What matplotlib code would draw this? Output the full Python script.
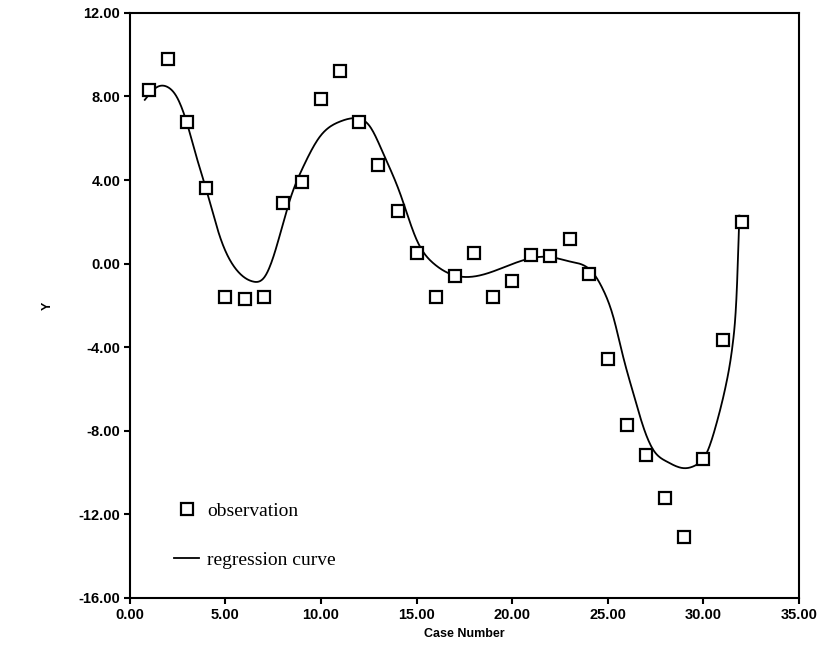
import numpy as np
import matplotlib
matplotlib.use("Agg")
import matplotlib.pyplot as plt

case_number = np.arange(1, 33)
y_obs = [8.3, 9.8, 6.8, 3.6, -1.6, -1.7, -1.6, 2.9, 3.9, 7.9, 9.2, 6.8,
         4.7, 2.5, 0.5, -1.6, -0.6, 0.5, -1.6, -0.85, 0.4, 0.35, 1.2, -0.5,
         -4.55, -7.75, -9.15, -11.2, -13.1, -9.35, -3.65, 2.0]

# regression curve, read at points along it
curve_x = [0.78, 1.4, 2.0, 2.44, 2.96, 3.48, 4.0, 4.71, 5.58, 6.45, 7.06, 7.67,
           8.37, 9.07, 9.94, 10.99, 11.86, 12.56, 13.25, 14.13, 15.0, 15.87,
           16.9, 17.97, 19.5, 21.1, 22.1, 23.02, 24.24, 24.76, 25.28, 25.8,
           26.33, 26.85, 27.38, 28.07, 28.94, 29.64, 30.17, 30.69, 31.2,
           31.56, 31.75, 31.88]
curve_y = [7.84, 8.44, 8.44, 8.0, 6.8, 5.12, 3.53, 1.29, -0.3, -0.86, -0.62, 0.81,
           3.05, 4.64, 6.08, 6.8, 6.96, 6.56, 5.28, 3.37, 1.14, 0.02,
           -0.54, -0.62, -0.2, 0.28, 0.3, 0.1, -0.46, -1.26, -2.53, -4.45,
           -6.2, -7.8, -8.92, -9.47, -9.79, -9.63, -9.07, -7.64, -5.72,
           -3.65, -1.2, 2.3]


def natural_spline(x, y, xs):
    x = np.asarray(x, float)
    y = np.asarray(y, float)
    n = len(x)
    h = np.diff(x)
    A = np.zeros((n, n))
    b = np.zeros(n)
    A[0, 0] = A[-1, -1] = 1
    for i in range(1, n - 1):
        A[i, i - 1] = h[i - 1]
        A[i, i] = 2 * (h[i - 1] + h[i])
        A[i, i + 1] = h[i]
        b[i] = 6 * ((y[i + 1] - y[i]) / h[i] - (y[i] - y[i - 1]) / h[i - 1])
    m = np.linalg.solve(A, b)
    idx = np.clip(np.searchsorted(x, xs) - 1, 0, n - 2)
    x0, x1 = x[idx], x[idx + 1]
    hh = x1 - x0
    t0, t1 = x1 - xs, xs - x0
    return (m[idx] * t0**3 / (6 * hh) + m[idx + 1] * t1**3 / (6 * hh)
            + (y[idx] / hh - m[idx] * hh / 6) * t0
            + (y[idx + 1] / hh - m[idx + 1] * hh / 6) * t1)


xs = np.linspace(curve_x[0], curve_x[-1], 800)
ys = natural_spline(curve_x, curve_y, xs)

fig = plt.figure(figsize=(8.22, 6.47), dpi=100)
ax = fig.add_axes([0.158, 0.076, 0.814, 0.904])

ax.plot(case_number, y_obs, "s", markersize=8.5, markerfacecolor="white",
        markeredgecolor="black", markeredgewidth=1.6, label="observation", zorder=3)
ax.plot(xs, ys, "-", color="black", linewidth=1.3, label="regression curve")

ax.set_xlim(0, 35)
ax.set_ylim(-16, 12)
ax.set_xticks(np.arange(0, 36, 5))
ax.set_yticks(np.arange(-16, 13, 4))
ax.xaxis.set_major_formatter(matplotlib.ticker.FormatStrFormatter("%.2f"))
ax.yaxis.set_major_formatter(matplotlib.ticker.FormatStrFormatter("%.2f"))
for lab in ax.get_xticklabels() + ax.get_yticklabels():
    lab.set_fontweight("bold")
    lab.set_fontfamily("Liberation Sans")
ax.tick_params(direction="out", length=4, width=1.5, labelsize=10.5, pad=3)
for s in ax.spines.values():
    s.set_linewidth(1.5)

ax.set_xlabel("Case Number", fontsize=9, fontweight="bold",
              fontfamily="Liberation Sans", labelpad=5)
ax.set_ylabel("Y", fontsize=9, fontweight="bold",
              fontfamily="Liberation Sans", labelpad=18)

ax.legend(loc="lower left", bbox_to_anchor=(0.04, 0.02), frameon=False,
          prop={"family": "Liberation Serif", "size": 14}, labelspacing=1.6,
          handlelength=1.3, handletextpad=0.4, markerscale=1.0)

fig.savefig("out.png", dpi=100)
